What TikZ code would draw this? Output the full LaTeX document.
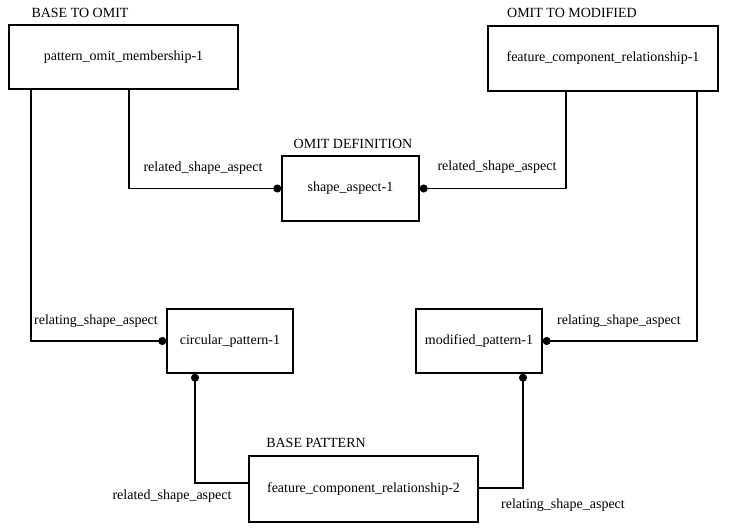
\documentclass[tikz,border=0pt]{standalone}
\usepackage{fontspec}
\setmainfont{Liberation Serif}
\usetikzlibrary{arrows.meta, positioning}
\tikzset{
	entity/.style={rectangle, draw=black, line width=1.4pt, fill=white, text centered, align=center, font=\fontsize{14}{16}\selectfont},
	title/.style={font=\fontsize{14}{16}\selectfont, inner sep=0pt},
	rolelabel/.style={font=\fontsize{14}{16}\selectfont, inner sep=0pt},
	link/.style={line width=1.4pt},
	dotend/.style={link, -{Circle[length=8pt]}},
	dotstart/.style={link, {Circle[length=8pt]}-},
}

\begin{document}
\begin{tikzpicture}[x=1pt, y=-1pt]
	\useasboundingbox (0,0) rectangle (729,532);
	% entities
	\node[entity, minimum width=229pt, minimum height=64pt] (pom) at (123.5,57) {pattern\_omit\_membership-1};
	\node[entity, minimum width=230pt, minimum height=65pt] (fcr1) at (603,58.5) {feature\_component\_relationship-1};
	\node[entity, minimum width=137pt, minimum height=65pt] (sa) at (350.5,188.5) {shape\_aspect-1};
	\node[entity, minimum width=126pt, minimum height=64pt] (cp) at (230,341) {circular\_pattern-1};
	\node[entity, minimum width=126pt, minimum height=64pt] (mp) at (479,341) {modified\_pattern-1};
	\node[entity, minimum width=229pt, minimum height=66pt] (fcr2) at (363.5,489) {feature\_component\_relationship-2};
	% titles
	\node[title] (tpom) at (80,13) {BASE TO OMIT};
	\node[title] (tfcr1) at (572,13) {OMIT TO MODIFIED};
	\node[title] (tsa) at (353,144) {OMIT DEFINITION};
	\node[title] (tfcr2) at (316,443) {BASE PATTERN};
	% relationships
	\draw[dotend] ([xshift=5.5pt]pom.south) |- (sa.west);
	\draw[dotend] ([xshift=-37pt]fcr1.south) |- (sa.east);
	\draw[dotend] ([xshift=-92.5pt]pom.south) |- (cp.west);
	\draw[dotend] ([xshift=94pt]fcr1.south) |- (mp.east);
	\draw[dotstart] ([xshift=-35pt]cp.south) |- ([yshift=6pt]fcr2.west);
	\draw[dotstart] ([xshift=44pt]mp.south) |- ([yshift=1pt]fcr2.east);
	% role labels
	\node[rolelabel] (r1) at (203,168) {related\_shape\_aspect};
	\node[rolelabel] (r2) at (497,167) {related\_shape\_aspect};
	\node[rolelabel] (r3) at (96,321) {relating\_shape\_aspect};
	\node[rolelabel] (r4) at (619,321) {relating\_shape\_aspect};
	\node[rolelabel] (r5) at (172,496) {related\_shape\_aspect};
	\node[rolelabel] (r6) at (563,505) {relating\_shape\_aspect};
\end{tikzpicture}
\end{document}
